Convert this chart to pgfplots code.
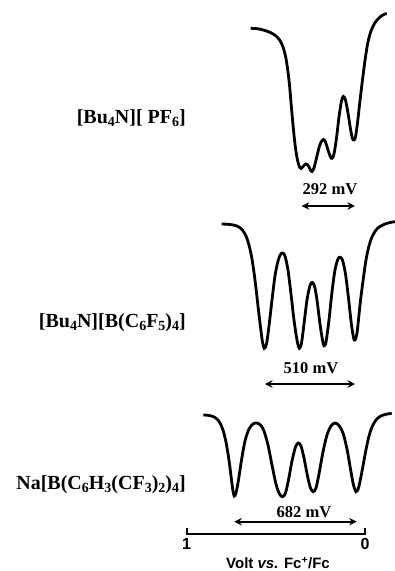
\documentclass[border=0pt]{standalone}
\usepackage{pgfplots}
\pgfplotsset{compat=1.18}
\usepackage{fontspec}
\setmainfont{Liberation Serif}
\newfontfamily\arialfont{Liberation Sans}
\usetikzlibrary{arrows.meta}
\newcommand\sub[1]{\raisebox{-0.32ex}{\fontsize{14}{14}\selectfont #1}}

\begin{document}
\begin{tikzpicture}
\useasboundingbox (0,0) rectangle (395pt,571pt);
\begin{axis}[
  at={(0,0)}, anchor=south west,
  scale only axis, width=395pt, height=571pt,
  xmin=-0.1683, xmax=2.0471, x dir=reverse,
  ymin=0, ymax=571, y dir=reverse,
  axis lines=none, clip=false,
  every axis plot/.append style={black},
]
% [Bu4N][PF6]
\addplot[line width=2.8pt, smooth, tension=0.5] coordinates {
(0.6410,28.3) (0.6001,28.8) (0.5609,30.5) (0.5272,32.8) (0.4992,36) (0.4767,40.5)
(0.4599,47) (0.4459,56) (0.4347,68) (0.4234,85) (0.4122,108) (0.4010,130)
(0.3898,148) (0.3786,160) (0.3674,167) (0.3589,168.5) (0.3449,166) (0.3309,164)
(0.3169,166) (0.3057,170) (0.2973,171.5) (0.2860,168) (0.2720,158) (0.2552,146)
(0.2412,140.5) (0.2328,139.5) (0.2215,142) (0.2075,150) (0.1935,157) (0.1851,158.3)
(0.1739,154) (0.1598,138) (0.1458,117) (0.1318,101) (0.1217,96.5) (0.1094,100)
(0.0953,113) (0.0813,129) (0.0701,138.5) (0.0617,140) (0.0533,137) (0.0421,123)
(0.0308,105) (0.0196,88) (0.0084,72) (-0.0028,57) (-0.0168,42) (-0.0337,31)
(-0.0533,23.5) (-0.0729,19) (-0.0953,15.5) (-0.1217,13.3)
};
% [Bu4N][B(C6F5)4]
\addplot[line width=2.8pt, smooth, tension=0.5] coordinates {
(0.8037,224.0) (0.7571,224.5) (0.7179,226) (0.6898,229.5) (0.6674,236) (0.6506,245)
(0.6338,259) (0.6169,280) (0.6001,306) (0.5861,327) (0.5749,342) (0.5648,348.3)
(0.5524,344) (0.5384,326) (0.5216,300) (0.5048,276) (0.4879,261) (0.4739,254.5)
(0.4616,253) (0.4487,256) (0.4319,270) (0.4150,294) (0.3982,320) (0.3814,340)
(0.3685,348.3) (0.3561,343) (0.3421,324) (0.3253,300) (0.3085,285.5) (0.2956,282.5)
(0.2832,286) (0.2692,300) (0.2524,324) (0.2384,340) (0.2299,345.7) (0.2187,342)
(0.2019,320) (0.1851,292) (0.1683,270) (0.1514,259) (0.1402,257.3) (0.1262,260)
(0.1094,274) (0.0925,298) (0.0757,325) (0.0600,340) (0.0449,333) (0.0280,305)
(0.0112,281) (-0.0056,260) (-0.0224,246) (-0.0393,237) (-0.0617,230) (-0.0841,226.5)
(-0.1122,224) (-0.1402,222.5) (-0.1683,221.7)
};
% Na[B(C6H3(CF3)2)4]
\addplot[line width=2.8pt, smooth, tension=0.5] coordinates {
(0.9069,415) (0.8805,415.3) (0.8525,416.5) (0.8301,419) (0.8132,423) (0.7964,430)
(0.7796,442) (0.7628,460) (0.7487,480) (0.7403,491) (0.7330,496) (0.7235,493)
(0.7095,480) (0.6926,460) (0.6730,441) (0.6506,429) (0.6282,424) (0.6074,423)
(0.5861,425) (0.5665,431) (0.5440,445) (0.5216,465) (0.4992,484) (0.4795,494)
(0.4616,496.7) (0.4459,493) (0.4291,480) (0.4094,461) (0.3898,447) (0.3741,443)
(0.3589,446) (0.3421,458) (0.3225,476) (0.3057,488) (0.2900,491.7) (0.2748,488)
(0.2580,474) (0.2356,452) (0.2131,435) (0.1907,426) (0.1683,423) (0.1458,425.5)
(0.1234,433) (0.1010,449) (0.0813,469) (0.0645,485) (0.0505,491.7) (0.0365,488)
(0.0196,474) (0.0000,455) (-0.0196,438) (-0.0393,427) (-0.0617,420) (-0.0841,416.5)
(-0.1122,414.5) (-0.1497,413.3)
};
% peak separation arrows
\addplot[line width=1.8pt, {Stealth[length=7.5pt,width=7.5pt]}-{Stealth[length=7.5pt,width=7.5pt]}] coordinates {(0.3550,206) (0.0561,206)};
\addplot[line width=1.8pt, {Stealth[length=7.5pt,width=7.5pt]}-{Stealth[length=7.5pt,width=7.5pt]}] coordinates {(0.5609,384) (0.0561,384)};
\addplot[line width=1.8pt, {Stealth[length=7.5pt,width=7.5pt]}-{Stealth[length=7.5pt,width=7.5pt]}] coordinates {(0.7330,521.7) (0.0466,521.7)};
% scale bar 1 V to 0 V
\addplot[line width=2pt] coordinates {(1,527.5) (1,534.3) (0,534.3) (0,527.5)};

\node[font=\fontsize{16.5}{19}\selectfont\bfseries] at (axis cs:0.1963,189) {292 mV};
\node[font=\fontsize{16.5}{19}\selectfont\bfseries] at (axis cs:0.3029,368) {510 mV};
\node[font=\fontsize{16.5}{19}\selectfont\bfseries] at (axis cs:0.3421,512.5) {682 mV};

\node[anchor=east, font=\fontsize{20}{22}\selectfont\bfseries, inner sep=0pt] at (axis cs:1.0039,118) {[Bu\sub{4}N][ PF\sub{6}]};
\node[anchor=east, font=\fontsize{20}{22}\selectfont\bfseries, inner sep=0pt] at (axis cs:1.0039,323) {[Bu\sub{4}N][B(C\sub{6}F\sub{5})\sub{4}]};
\node[anchor=east, font=\fontsize{20}{22}\selectfont\bfseries, inner sep=0pt] at (axis cs:1.0039,485) {Na[B(C\sub{6}H\sub{3}(CF\sub{3})\sub{2})\sub{4}]};

\node[font=\arialfont\fontsize{16}{18}\selectfont\bfseries] at (axis cs:1,544) {1};
\node[font=\arialfont\fontsize{16}{18}\selectfont\bfseries] at (axis cs:0,544) {0};
\node[font=\arialfont\fontsize{15}{17}\selectfont\bfseries] at (axis cs:0.4878,563) {Volt \textit{vs.} Fc\textsuperscript{+}/Fc};
\end{axis}
\end{tikzpicture}
\end{document}
